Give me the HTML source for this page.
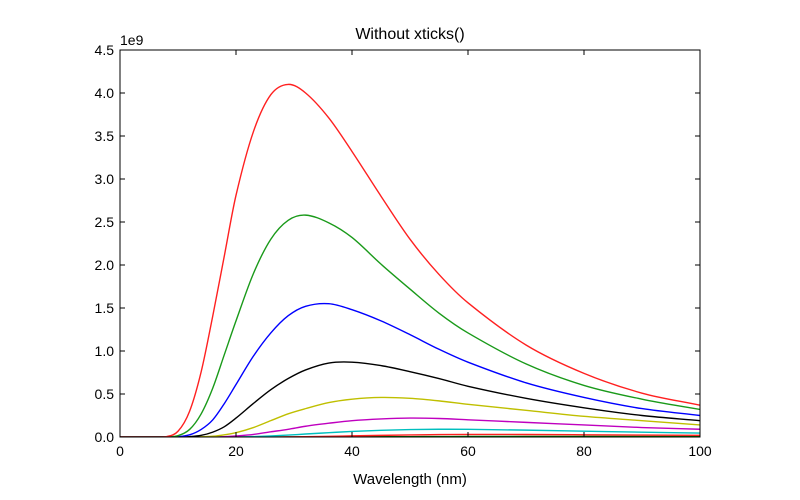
<!DOCTYPE html>
<html><head><meta charset="utf-8"><style>
body{margin:0;background:#fff;}
svg{display:block;font-family:"Liberation Sans","DejaVu Sans",sans-serif;}
</style></head><body>
<svg id="chart" width="800" height="500"></svg>
<script>
const xs=[0,6,8,10,12,14,16,18,20,23,26,29,32,36,40,45,50,55,60,70,80,90,100];
const red=[0,0,0.004,0.067,0.30,0.76,1.41,2.11,2.81,3.55,3.98,4.1,4.0,3.71,3.32,2.80,2.30,1.89,1.56,1.07,0.74,0.51,0.37];
const green=[0,0,0.001,0.015,0.088,0.27,0.57,0.96,1.35,1.90,2.30,2.52,2.58,2.49,2.32,2.01,1.72,1.44,1.21,0.85,0.60,0.44,0.32];
const blue=[0,0,0,0.003,0.025,0.088,0.20,0.39,0.61,0.94,1.21,1.41,1.52,1.55,1.48,1.35,1.19,1.02,0.87,0.63,0.46,0.33,0.25];
const black=[0,0,0,0,0.004,0.019,0.057,0.12,0.22,0.39,0.55,0.68,0.78,0.86,0.87,0.83,0.76,0.68,0.59,0.45,0.34,0.25,0.19];
const yellow=[0,0,0,0,0,0.003,0.009,0.026,0.05,0.11,0.19,0.27,0.33,0.40,0.44,0.46,0.45,0.42,0.38,0.31,0.24,0.19,0.14];
const magenta=[0,0,0,0,0,0,0,0.004,0.012,0.03,0.06,0.09,0.125,0.16,0.19,0.21,0.22,0.215,0.20,0.17,0.14,0.11,0.09];
const cyan=[0,0,0,0,0,0,0,0,0,0.005,0.012,0.022,0.035,0.05,0.065,0.078,0.086,0.09,0.089,0.08,0.068,0.056,0.046];
const red2=[0,0,0,0,0,0,0,0,0,0,0,0.002,0.004,0.008,0.013,0.019,0.024,0.028,0.03,0.029,0.026,0.022,0.019];
const green2=[0,0,0,0,0,0,0,0,0,0,0,0,0,0,0.002,0.003,0.004,0.005,0.006,0.007,0.007,0.0065,0.006];
const xTicks=[0,20,40,60,80,100];
const yTicks=[0,0.5,1.0,1.5,2.0,2.5,3.0,3.5,4.0,4.5];
const series=[[green2,'#008000','green2-curve'],[red2,'#ff2020','red2-curve'],[cyan,'#00bfbf','cyan-curve'],[magenta,'#bf00bf','magenta-curve'],[yellow,'#bfbf00','yellow-curve'],[black,'#000000','black-curve'],[blue,'#0000ff','blue-curve'],[green,'#1a9a1a','green-curve'],[red,'#ff2020','red-curve']];

const L=120,R=700,T=50,B=437;
const sx=v=>L+(v-0)/(100-0)*(R-L);
const sy=v=>B-(v/4.5)*(B-T);
const svg=document.getElementById('chart');
const NS='http://www.w3.org/2000/svg';
function mk(t,a){const e=document.createElementNS(NS,t);for(const k in a)e.setAttribute(k,a[k]);svg.appendChild(e);return e;}

const clip=mk('clipPath',{id:'clp'});
const cr=document.createElementNS(NS,'rect');cr.setAttribute('x',L);cr.setAttribute('y',T-2);cr.setAttribute('width',R-L);cr.setAttribute('height',B-T+2);clip.appendChild(cr);

function pathFor(ys){
  const n=xs.length;
  const m=xs.map((x,i)=>{
    const a=Math.max(0,i-1),b=Math.min(n-1,i+1);
    return (ys[b]-ys[a])/(xs[b]-xs[a]);
  });
  let d='M'+sx(xs[0])+','+sy(ys[0]);
  for(let i=0;i<n-1;i++){
    const h=xs[i+1]-xs[i];
    const c1x=xs[i]+h/3,c1y=ys[i]+m[i]*h/3;
    const c2x=xs[i+1]-h/3,c2y=ys[i+1]-m[i+1]*h/3;
    d+=` C${sx(c1x)},${Math.min(B,sy(c1y))} ${sx(c2x)},${Math.min(B,sy(c2y))} ${sx(xs[i+1])},${sy(ys[i+1])}`;
  }
  return d;
}
series.forEach(s=>{
  const e=mk('path',{d:pathFor(s[0]),fill:'none',stroke:s[1],'stroke-width':1.4,'clip-path':'url(#clp)'});
  
  
});

const frame=mk('rect',{x:L,y:T,width:R-L,height:B-T,fill:'none',stroke:'#000','stroke-width':1});



xTicks.forEach(v=>{
  const x=sx(v);
  mk('line',{x1:x,y1:B,x2:x,y2:B-5,stroke:'#000'});
  mk('line',{x1:x,y1:T,x2:x,y2:T+5,stroke:'#000'});
  const t=mk('text',{x:x,y:B+19,'text-anchor':'middle','font-size':14,fill:'#000'});
  t.textContent=String(v);
  
  
});
yTicks.forEach(v=>{
  const y=sy(v);
  mk('line',{x1:L,y1:y,x2:L+5,y2:y,stroke:'#000'});
  mk('line',{x1:R,y1:y,x2:R-5,y2:y,stroke:'#000'});
  const t=mk('text',{x:L-6,y:y+5,'text-anchor':'end','font-size':14,fill:'#000'});
  t.textContent=v.toFixed(1);
  
  
});
const ex=mk('text',{x:L,y:T-5,'font-size':14,fill:'#000'});ex.textContent='1e9';


const ti=mk('text',{x:(L+R)/2,y:T-11,'text-anchor':'middle','font-size':16,fill:'#000'});ti.textContent='Without xticks()';


const xl=mk('text',{x:(L+R)/2,y:484,'text-anchor':'middle','font-size':15,fill:'#000'});xl.textContent='Wavelength (nm)';


</script>
</body></html>
